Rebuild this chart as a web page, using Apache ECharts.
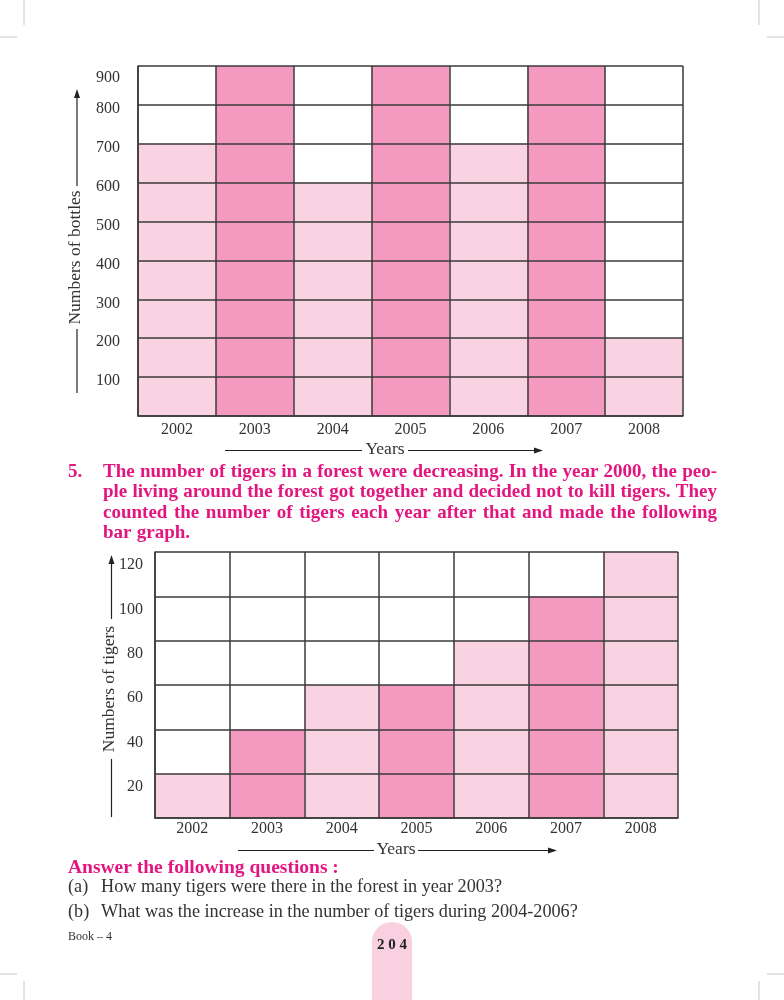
<!DOCTYPE html>
<html>
<head>
<meta charset="utf-8">
<script src="https://cdn.jsdelivr.net/npm/echarts@6/dist/echarts.min.js"></script>
<style>
html,body{margin:0;padding:0;background:#fff;}
#chart{width:784px;height:1000px;}
</style>
</head>
<body>
<div id="chart"></div>
<script>
// ---- data ----
const years = ['2002', '2003', '2004', '2005', '2006', '2007', '2008'];
const bottles = [700, 900, 600, 900, 700, 900, 200];
const tigers = [20, 40, 60, 60, 80, 100, 120];
const bottleTicks = [0, 100, 200, 300, 400, 500, 600, 700, 800, 900];
const tigerTicks = [0, 20, 40, 60, 80, 100, 120];
const paragraph = [
  'The number of tigers in a forest were decreasing. In the year 2000, the peo-',
  'ple living around the forest got together and decided not to kill tigers. They',
  'counted the number of tigers each year after that and made the following',
  'bar graph.'
];
const questions = [
  ['(a)', 'How many tigers were there in the forest in year 2003?'],
  ['(b)', 'What was the increase in the number of tigers during 2004-2006?']
];

// ---- styles ----
const SERIF = 'Liberation Serif';
const LINE = '#3a3a3a';
const TXT = '#333333';
const PINK = '#e3157f';
const DARK = '#f49ac1';
const LIGHT = '#fad3e3';

const ctx = document.createElement('canvas').getContext('2d');
function justify(line, x0, x1, y, size, weight, color, last) {
  const font = weight + ' ' + size + 'px "' + SERIF + '"';
  ctx.font = font;
  const words = line.split(' ');
  const widths = words.map(w => ctx.measureText(w).width);
  const total = widths.reduce((a, b) => a + b, 0);
  const gap = last ? ctx.measureText(' ').width * 1.1 : (x1 - x0 - total) / (words.length - 1);
  let x = x0;
  return words.map((w, i) => {
    const el = {type: 'text', x: x, y: y, style: {text: w, fontFamily: SERIF, fontSize: size, fontWeight: weight, fill: color, verticalAlign: 'middle'}};
    x += widths[i] + gap;
    return el;
  });
}

const lineStyle = {color: LINE, width: 1.5};
function arrowV(x, yBottom, yGapBottom, yGapTop, yTip, label, tx) {
  return [
    {type: 'line', shape: {x1: x, y1: yBottom, x2: x, y2: yGapBottom}, style: {stroke: '#222', lineWidth: 1.2}},
    {type: 'line', shape: {x1: x, y1: yGapTop, x2: x, y2: yTip + 6}, style: {stroke: '#222', lineWidth: 1.2}},
    {type: 'polygon', shape: {points: [[x, yTip], [x - 3, yTip + 9], [x + 3, yTip + 9]]}, style: {fill: '#222'}},
    {type: 'text', x: tx, y: (yGapBottom + yGapTop) / 2, rotation: Math.PI / 2,
     style: {text: label, fontFamily: SERIF, fontSize: 17.5, fill: TXT, align: 'center', verticalAlign: 'middle'}}
  ];
}
function arrowH(y, x0, x1, x2, xTip, label) {
  return [
    {type: 'line', shape: {x1: x0, y1: y, x2: x1, y2: y}, style: {stroke: '#222', lineWidth: 1.2}},
    {type: 'line', shape: {x1: x2, y1: y, x2: xTip - 6, y2: y}, style: {stroke: '#222', lineWidth: 1.2}},
    {type: 'polygon', shape: {points: [[xTip, y], [xTip - 9, y - 3], [xTip - 9, y + 3]]}, style: {fill: '#222'}},
    {type: 'text', x: (x1 + x2) / 2, y: y - 1,
     style: {text: label, fontFamily: SERIF, fontSize: 17.5, fill: TXT, align: 'center', verticalAlign: 'middle'}}
  ];
}

let graphics = [];
// crop marks
const cm = {stroke: '#c8c8c8', lineWidth: 1};
[[0, 37, 17, 37], [24, 0, 24, 25], [767, 37, 784, 37], [759, 0, 759, 25],
 [0, 974, 17, 974], [24, 981, 24, 1000], [767, 974, 784, 974], [759, 981, 759, 1000]].forEach(s => {
  graphics.push({type: 'line', shape: {x1: s[0], y1: s[1], x2: s[2], y2: s[3]}, style: cm});
});
graphics = graphics.concat(arrowV(77, 393, 329, 186, 89, 'Numbers of bottles', 75));
graphics = graphics.concat(arrowH(450.5, 225, 362, 408, 543, 'Years'));
graphics = graphics.concat(arrowV(111.5, 817, 759, 619, 555, 'Numbers of tigers', 109.5));
graphics = graphics.concat(arrowH(850.5, 238, 374, 418, 557, 'Years'));

// paragraph
graphics.push({type: 'text', x: 68, y: 472, style: {text: '5.', fontFamily: SERIF, fontSize: 19, fontWeight: 'bold', fill: PINK, verticalAlign: 'middle'}});
const pY = [472, 492.5, 513, 533];
paragraph.forEach((l, i) => {
  graphics = graphics.concat(justify(l, 103, 717, pY[i], 19, 'bold', PINK, i === paragraph.length - 1));
});
graphics.push({type: 'text', x: 68, y: 868, style: {text: 'Answer the following questions :', fontFamily: SERIF, fontSize: 19.5, fontWeight: 'bold', fill: PINK, verticalAlign: 'middle'}});
const qY = [887, 912];
questions.forEach((q, i) => {
  graphics.push({type: 'text', x: 68, y: qY[i], style: {text: q[0], fontFamily: SERIF, fontSize: 18.2, fill: TXT, verticalAlign: 'middle'}});
  graphics.push({type: 'text', x: 101, y: qY[i], style: {text: q[1], fontFamily: SERIF, fontSize: 18.2, fill: TXT, verticalAlign: 'middle'}});
});
graphics.push({type: 'text', x: 68, y: 937, style: {text: 'Book – 4', fontFamily: SERIF, fontSize: 12, fill: TXT, verticalAlign: 'middle'}});
graphics.push({type: 'rect', shape: {x: 372, y: 922, width: 40, height: 90, r: [20, 20, 0, 0]}, style: {fill: '#f9d0e0'}});
graphics.push({type: 'text', x: 392, y: 945, style: {text: '2 0 4', fontFamily: SERIF, fontSize: 15, fontWeight: 'bold', fill: '#222', align: 'center', verticalAlign: 'middle'}});

function colorFn(p) { return p.dataIndex % 2 ? DARK : LIGHT; }

const bottleMax = bottleTicks[bottleTicks.length - 1];
const axisLabelX = {color: TXT, fontFamily: SERIF, fontSize: 16};
const option = {
  animation: false,
  backgroundColor: '#fff',
  grid: [
    {left: 138, top: 66, width: 545, height: 350},
    {left: 155, top: 552, width: 523, height: 266}
  ],
  xAxis: [
    {type: 'category', gridIndex: 0, data: years, z: 10,
     axisLine: {show: true, lineStyle: lineStyle}, axisTick: {show: false},
     splitLine: {show: true, interval: 0, lineStyle: lineStyle},
     axisLabel: Object.assign({margin: 6}, axisLabelX)},
    {type: 'category', gridIndex: 1, data: years, z: 10,
     axisLine: {show: true, lineStyle: lineStyle}, axisTick: {show: false},
     splitLine: {show: true, interval: 0, lineStyle: lineStyle},
     axisLabel: Object.assign({margin: 3}, axisLabelX)}
  ],
  yAxis: [
    {type: 'value', gridIndex: 0, min: bottleTicks[0], max: bottleMax,
     interval: bottleTicks[1] - bottleTicks[0], z: 10,
     axisLine: {show: true, lineStyle: lineStyle}, axisTick: {show: false},
     splitLine: {show: true, lineStyle: lineStyle},
     axisLabel: {color: TXT, fontFamily: SERIF, fontSize: 16, margin: 18, verticalAlign: 'top', padding: [-4, 0, 0, 0],
       formatter: v => (v === 0 ? '' : (v === bottleMax ? '{hi|' + v + '}' : String(v))),
       rich: {hi: {color: TXT, fontFamily: SERIF, fontSize: 16, padding: [8, 0, 0, 0]}}}},
    {type: 'value', gridIndex: 1, min: tigerTicks[0], max: tigerTicks[tigerTicks.length - 1],
     interval: tigerTicks[1] - tigerTicks[0], z: 10,
     axisLine: {show: true, lineStyle: lineStyle}, axisTick: {show: false},
     splitLine: {show: true, lineStyle: lineStyle},
     axisLabel: {color: TXT, fontFamily: SERIF, fontSize: 16, margin: 12, verticalAlign: 'top', padding: [5, 0, 0, 0],
       formatter: v => (v === 0 ? '' : String(v))}}
  ],
  series: [
    {type: 'bar', xAxisIndex: 0, yAxisIndex: 0, data: bottles, barWidth: '100%', itemStyle: {color: colorFn}},
    {type: 'bar', xAxisIndex: 1, yAxisIndex: 1, data: tigers, barWidth: '100%', itemStyle: {color: colorFn}}
  ],
  graphic: {elements: graphics}
};
const chart = echarts.init(document.getElementById('chart'));
chart.setOption(option);
</script>
</body>
</html>
